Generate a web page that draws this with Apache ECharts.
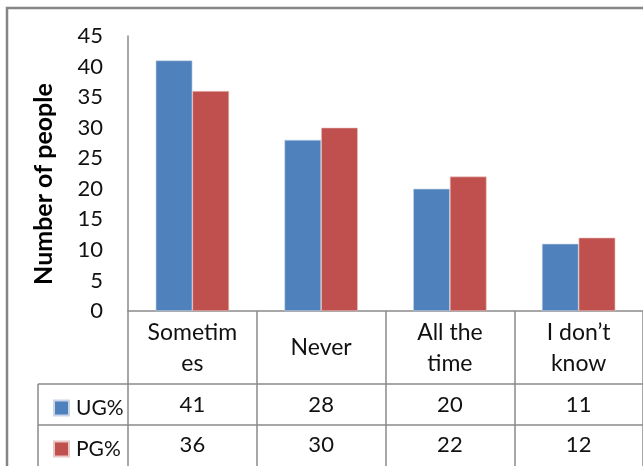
<!DOCTYPE html>
<html>
<head>
<meta charset="utf-8">
<script src="https://cdn.jsdelivr.net/npm/echarts@6/dist/echarts.min.js"></script>
<style>
  html, body { margin: 0; padding: 0; background: #fff; }
  #chart { width: 643px; height: 466px; }
</style>
</head>
<body>
<div id="chart"></div>
<script>
// Responses per category for undergraduate and postgraduate groups
const categories = ['Sometim\nes', 'Never', 'All the\ntime', 'I don\u2019t\nknow'];
const ugValues = [41, 28, 20, 11];
const pgValues = [36, 30, 22, 12];
const seriesNames = ['UG%', 'PG%'];
const yTicks = { min: 0, max: 45, interval: 5 };

const FONT = 'Lato';
const LINE = '#8a8a8a';
const TEXT = '#111';

// Plot geometry (pixels)
const plotLeft = 128, plotTop = 36, plotBottomY = 311, catWidth = 130;
const rowTop1 = 384, rowTop2 = 425, tableLeft = 38;

const chart = echarts.init(document.getElementById('chart'), null, { renderer: 'canvas' });

// Extra category axes used as the rows of the data table
const tableAxis = (values, offset) => ({
  type: 'category',
  gridIndex: 0,
  position: 'bottom',
  offset: offset,
  data: values.map(String),
  axisLine: { show: false },
  axisTick: { show: false },
  axisLabel: {
    interval: 0, margin: 0, verticalAlign: 'middle',
    fontFamily: FONT, fontSize: 22, color: TEXT
  }
});

chart.setOption({
  animation: false,
  backgroundColor: '#fff',
  grid: {
    left: plotLeft, top: plotTop,
    width: catWidth * categories.length,
    height: plotBottomY - plotTop
  },
  legend: {
    orient: 'vertical',
    left: 48, top: 392,
    itemWidth: 15, itemHeight: 15, itemGap: 19,
    icon: 'rect',
    textStyle: { fontFamily: FONT, fontSize: 21, lineHeight: 22, color: TEXT, padding: [0, 0, 0, 2] },
    data: seriesNames
  },
  xAxis: [
    {
      type: 'category',
      data: categories,
      axisLine: { show: true, lineStyle: { color: LINE, width: 1.5 } },
      axisTick: { show: true, length: 466 - plotBottomY, alignWithLabel: false, lineStyle: { color: LINE, width: 1.5 } },
      axisLabel: {
        interval: 0, margin: 37, verticalAlign: 'middle', lineHeight: 31,
        fontFamily: FONT, fontSize: 23, color: TEXT
      }
    },
    tableAxis(ugValues, 94),
    tableAxis(pgValues, 134)
  ],
  yAxis: {
    type: 'value',
    min: yTicks.min, max: yTicks.max, interval: yTicks.interval,
    axisLine: { show: true, lineStyle: { color: LINE, width: 1.5 } },
    axisTick: { show: false },
    splitLine: { show: false },
    axisLabel: { margin: 25, fontFamily: FONT, fontSize: 22, color: TEXT }
  },
  graphic: [
    // outer chart border
    { type: 'rect', shape: { x: 7, y: 8, width: 700, height: 500 },
      style: { fill: 'none', stroke: '#858585', lineWidth: 2.5 }, z: 100 },
    // data table rows
    { type: 'line', shape: { x1: tableLeft, y1: rowTop1, x2: 700, y2: rowTop1 },
      style: { stroke: LINE, lineWidth: 1.5 } },
    { type: 'line', shape: { x1: tableLeft, y1: rowTop2, x2: 700, y2: rowTop2 },
      style: { stroke: LINE, lineWidth: 1.5 } },
    { type: 'line', shape: { x1: tableLeft, y1: rowTop1, x2: tableLeft, y2: 470 },
      style: { stroke: LINE, lineWidth: 1.5 } },
    // axis title
    { type: 'text', x: 44, y: 184, rotation: Math.PI / 2,
      style: { text: 'Number of people', fontFamily: FONT, fontSize: 25, fontWeight: 'bold',
               fill: '#000', textAlign: 'center', textVerticalAlign: 'middle' } }
  ],
  series: [
    {
      name: seriesNames[0], type: 'bar', data: ugValues,
      barGap: '0%', barCategoryGap: '43%',
      itemStyle: { color: '#4F81BD', borderColor: '#c9d6e8', borderWidth: 0.6 }
    },
    {
      name: seriesNames[1], type: 'bar', data: pgValues,
      itemStyle: { color: '#C0504D', borderColor: '#e8c6c5', borderWidth: 0.6 }
    }
  ]
});
</script>
</body>
</html>
